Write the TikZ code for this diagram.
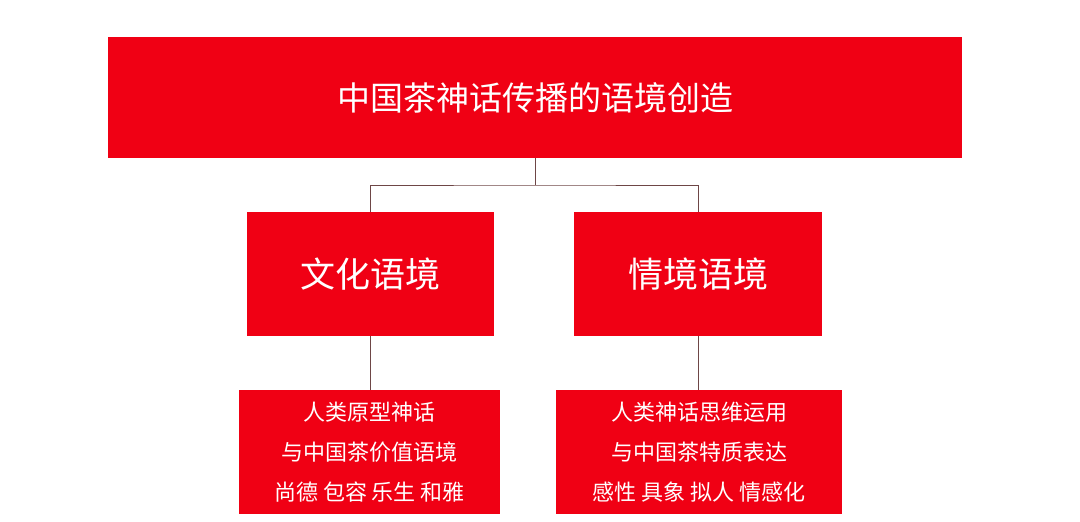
\documentclass[tikz,border=0pt]{standalone}
\usepackage{fontspec}
\newfontfamily\cjk{Noto Sans CJK SC}
\definecolor{boxred}{RGB}{240,0,20}
\definecolor{linec}{RGB}{110,70,70}
\begin{document}
\begin{tikzpicture}[x=1pt,y=-1pt,
  bx/.style={fill=boxred,draw=none,text=white,font=\cjk,inner sep=0pt,align=center},
  ln/.style={draw=linec,line width=1pt}]
\useasboundingbox (0,0) rectangle (1080,522);
\node[bx,minimum width=854,minimum height=121,font=\cjk\fontsize{33}{38}\selectfont] (top) at (535,97.5) {中国茶神话传播的语境创造};
\node[bx,minimum width=247,minimum height=124,font=\cjk\fontsize{35}{40}\selectfont] (l) at (370.5,274) {文化语境};
\node[bx,minimum width=248,minimum height=124,font=\cjk\fontsize{35}{40}\selectfont] (r) at (698,274) {情境语境};
\node[bx,minimum width=261,minimum height=124,font=\cjk\fontsize{22}{40}\selectfont] (bl) at (369.5,452) {人类原型神话\\与中国茶价值语境\\尚德 包容 乐生 和雅};
\node[bx,minimum width=286,minimum height=124,font=\cjk\fontsize{22}{40}\selectfont] (br) at (699,452) {人类神话思维运用\\与中国茶特质表达\\感性 具象 拟人 情感化};
\coordinate (j) at (535,185);
\draw[ln] (top.south) -- (j);
\draw[ln] (l.north) |- (j) -| (r.north);
\draw[ln] (l.south) -- (l.south|-bl.north);
\draw[ln] (r.south) -- (r.south|-br.north);
\end{tikzpicture}
\end{document}
